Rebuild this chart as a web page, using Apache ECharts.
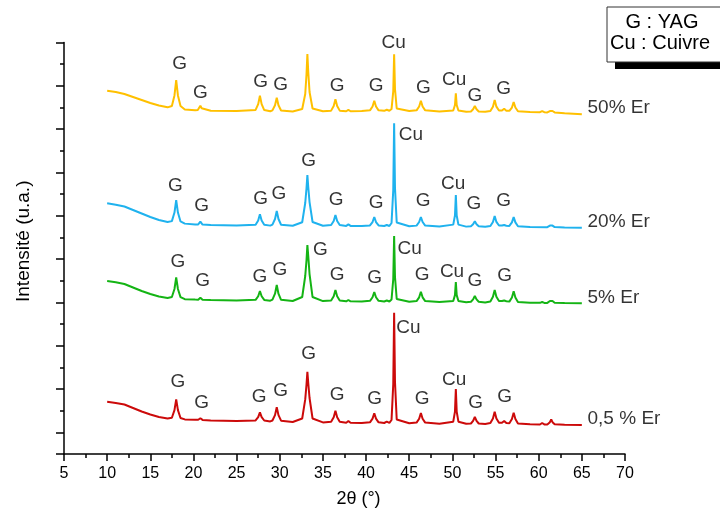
<!DOCTYPE html>
<html><head><meta charset="utf-8">
<script src="https://cdn.jsdelivr.net/npm/echarts@6/dist/echarts.min.js"></script>
<style>html,body{margin:0;padding:0;background:#fff}#c{width:720px;height:519px}</style>
</head><body><div id="c"></div>
<script>
// X-ray diffraction patterns (2θ in degrees, intensity in arbitrary units, offset per sample)
const seriesNames = ['50% Er', '20% Er', '5% Er', '0,5 % Er'];
const seriesColors = ['#FFC000', '#1FB2EE', '#14B414', '#CC0A0A'];

const er50 = [[10,363.3],[11,362],[12,360],[13,357],[14,354],[15,351],[16,348.5],[17,346.7],
[17.5,348],[17.8,358.6],[18,374],[18.2,358.6],[18.5,348],[19,344.6],[20.2,343.8],
[20.5,344.1],[20.65,345.8],[20.8,348.3],[20.95,345.8],[21.1,344],[22,343.2],[25,343],
[27.2,344.1],[27.5,349.9],[27.7,358.3],[27.9,349.9],[28.2,344],[28.9,342.8],
[29.15,343.7],[29.45,348.8],[29.65,356.3],[29.85,348.8],[30.15,343.6],[31.5,342.5],
[32.6,345],[32.95,360],[33.1,380],[33.2,400],[33.3,382],[33.45,362],[33.8,345.5],[35,342.7],
[35.95,343.4],[36.25,348],[36.45,354.7],[36.65,348],[36.95,343.4],
[37.7,342.8],[37.95,344.2],[38.2,342.8],[39.5,343],
[40.45,343.7],[40.75,347.6],[40.95,353.3],[41.15,347.6],[41.45,343.7],
[42.1,343.2],[42.4,344.3],[42.7,343.3],
[42.95,345],[43.15,363],[43.25,399.7],[43.35,365],[43.55,345.5],[45,343],
[45.85,343.7],[46.15,347.6],[46.35,353.3],[46.55,347.6],[46.85,343.7],[48.5,342.5],
[50.1,343.5],[50.3,349],[50.4,360.7],[50.5,349],[50.7,343.5],[51.6,342.2],
[52.15,342.6],[52.4,344.8],[52.6,348],[52.8,344.8],[53.05,342.6],[53.8,342.2],
[54.4,343],[54.7,347.4],[54.9,354],[55.1,347.4],[55.4,343.5],
[55.75,343.5],[56.0,345.3],[56.25,343.4],
[56.6,343.2],[56.9,346.5],[57.1,352],[57.3,346.5],[57.6,342.8],[59,342],
[60.15,341.8],[60.4,343],[60.65,341.8],[61.0,341.6],
[61.1,341.8],[61.3,343],[61.45,344.7],[61.6,343],[61.85,341.6],[63,340.7],[65,339.7]];

const er20 = [[10,250.7],[11,249.3],[12,247.5],[13,244],[14,240.5],[15,237],[16,234],[17,232],
[17.5,232.9],[17.8,241.5],[18,254],[18.2,241.5],[18.5,232.6],[19,230.4],[20.2,229.6],
[20.55,229.6],[20.8,232.3],[21.05,229.5],[22,229],[25,228.6],
[27.2,229.3],[27.5,233.5],[27.7,239.7],[27.9,233.5],[28.2,229.2],[28.9,228.4],
[29.15,229.4],[29.45,235],[29.65,243],[29.85,235],[30.15,229.3],[31.5,228.3],
[32.6,231.8],[32.95,251],[33.1,266],[33.2,279],[33.3,267],[33.45,252],[33.8,232],[35,228.3],
[35.95,229],[36.25,233],[36.45,239],[36.65,233],[36.95,229],
[37.7,228.1],[37.95,229.6],[38.2,228.1],[39.5,228],
[40.45,228.6],[40.75,232],[40.95,237],[41.15,232],[41.45,228.6],
[42.1,228],[42.4,229],[42.7,228],
[42.95,231],[43.15,264],[43.25,330.7],[43.35,266],[43.55,231.5],[45,227.8],
[45.85,228.4],[46.15,232],[46.35,237],[46.55,232],[46.85,228.4],[48.5,227.6],
[50.1,229.4],[50.3,238.5],[50.4,259],[50.5,238.5],[50.7,229.4],[51.6,227.4],
[52.15,227.8],[52.4,229.8],[52.6,232.7],[52.8,229.8],[53.05,227.8],[53.8,227.3],
[54.4,228],[54.7,232.1],[54.9,238],[55.1,232.1],[55.4,228.5],
[55.75,228.5],[56.0,229],[56.25,228.3],
[56.6,228.1],[56.9,231.6],[57.1,237],[57.3,231.6],[57.6,227.8],[59,227],[61.0,226.8],
[61.1,227],[61.3,228.4],[61.45,230],[61.6,228.4],[61.85,226.9],[63,226.5],[65,226.3]];

const er5 = [[10,173],[11,171.7],[12,170],[13,166.5],[14,163],[15,160],[16,157.5],[17,156],
[17.5,157],[17.8,165],[18,176.7],[18.2,165],[18.5,156.9],[19,154.8],[20.2,154.4],
[20.55,154.3],[20.8,156.3],[21.05,154.2],[22,154],[25,153.6],
[27.2,154.2],[27.5,157.8],[27.7,163],[27.9,157.8],[28.2,154.1],[28.9,153.3],
[29.15,154.3],[29.45,160.3],[29.65,169],[29.85,160.3],[30.15,154.2],[31.5,153],
[32.6,157],[32.95,178],[33.1,194],[33.2,209],[33.3,198],[33.45,180],[33.8,157],[35,152.9],
[35.95,153.6],[36.25,157.8],[36.45,164],[36.65,157.8],[36.95,153.6],
[37.7,152.7],[37.95,154],[38.2,152.7],[39.5,152.5],
[40.45,153.2],[40.75,156.8],[40.95,162],[41.15,156.8],[41.45,153.2],
[42.1,152.5],[42.4,153.5],[42.7,152.5],
[42.95,154.5],[43.15,175],[43.25,218],[43.35,177],[43.55,155],[45,152.2],
[45.85,152.9],[46.15,156.7],[46.35,162.3],[46.55,156.7],[46.85,152.9],[48.5,152],
[50.1,153.1],[50.3,158.9],[50.4,172],[50.5,158.9],[50.7,153.1],[51.6,151.8],
[52.15,152.3],[52.4,154.6],[52.6,158],[52.8,154.6],[53.05,152.3],[53.8,151.6],
[54.4,152.5],[54.7,157.2],[54.9,164],[55.1,157.2],[55.4,153],
[55.75,153],[56.0,153.6],[56.25,152.8],
[56.6,152.4],[56.9,156.5],[57.1,162.7],[57.3,156.5],[57.6,152],[59,151.3],
[60.15,151.2],[60.4,152],[60.65,151.1],[61.0,151.1],
[61.1,151.4],[61.3,153],[61.45,155],[61.6,153],[61.85,151.2],[63,150.9],[65,150.7]];

const er05 = [[10,52.3],[11,51],[12,49.5],[13,46],[14,42.5],[15,39.5],[16,37],[17,35.5],
[17.5,36.2],[17.8,43.9],[18,54.7],[18.2,43.9],[18.5,36],[19,34.6],[20.2,34.2],
[20.55,34.2],[20.8,35.7],[21.05,34.1],[22,33.5],[25,33],
[27.2,33.6],[27.5,36.9],[27.7,41.7],[27.9,36.9],[28.2,33.5],[28.9,32.6],
[29.15,33.5],[29.45,38.9],[29.65,46.7],[29.85,38.9],[30.15,33.3],[31.5,32],
[32.6,35.5],[32.95,54.6],[33.1,69.7],[33.2,82.3],[33.3,71],[33.45,56],[33.8,35.5],[35,31.6],
[35.95,32.3],[36.25,36.8],[36.45,43.3],[36.65,36.8],[36.95,32.3],
[37.7,31.3],[37.95,33],[38.2,31.3],[39.5,31],
[40.45,31.7],[40.75,35.4],[40.95,40.7],[41.15,35.4],[41.45,31.7],
[42.1,31],[42.4,32.3],[42.7,31.2],
[42.95,34],[43.15,70],[43.25,141.3],[43.35,72],[43.55,34.5],[45,30.7],
[45.85,31.4],[46.15,35.3],[46.35,41],[46.55,35.3],[46.85,31.4],[48.5,30.3],
[50.1,32.3],[50.3,42.4],[50.4,65],[50.5,42.4],[50.7,32.3],[51.6,30.2],
[52.15,30.5],[52.4,33.1],[52.6,37],[52.8,33.1],[53.05,30.5],[53.8,30.1],
[54.4,30.9],[54.7,35.5],[54.9,42.3],[55.1,35.5],[55.4,31.2],
[55.75,31.2],[56.0,33],[56.25,31],
[56.6,30.8],[56.9,35.1],[57.1,41.3],[57.3,35.1],[57.6,30.6],[59,29.7],
[60.15,29.5],[60.4,31],[60.65,29.6],[61.0,29.5],
[61.1,29.9],[61.3,31.8],[61.45,34.7],[61.6,31.8],[61.85,29.8],[63,29.2],[65,29]];

// Peak annotations: [2θ, intensity, text]
const peakLabels50 = [[18.4,390,'G'],[20.8,361.7,'G'],[27.77,372.3,'G'],[30.1,369,'G'],[33.57,417.3,'G'],[36.65,368,'G'],[41.17,368,'G'],[43.2,411.3,'Cu'],[46.65,366.7,'G'],[50.2,374,'Cu'],[52.6,358.3,'G'],[55.95,365.7,'G']];
const peakLabels20 = [[17.92,268.3,'G'],[20.96,248.3,'G'],[27.77,255.7,'G'],[29.9,260.7,'G'],[33.35,293,'G'],[36.54,254,'G'],[41.17,251.7,'G'],[45.2,319,'Cu'],[46.6,253,'G'],[50.1,270,'Cu'],[52.5,250.7,'G'],[55.95,253,'G']];
const peakLabels5 = [[18.2,192.3,'G'],[21.07,173,'G'],[27.7,177.3,'G'],[30.0,184.7,'G'],[34.7,204,'G'],[36.65,179,'G'],[41.0,176.3,'G'],[45.06,205.7,'Cu'],[46.5,179,'G'],[49.96,182.3,'Cu'],[52.6,173,'G'],[56.05,178.3,'G']];
const peakLabels05 = [[18.2,72.3,'G'],[20.96,51.3,'G'],[27.6,57.3,'G'],[30.1,63,'G'],[33.35,100.7,'G'],[36.65,59,'G'],[41.0,55,'G'],[44.9,126.3,'Cu'],[46.5,55.7,'G'],[50.2,74,'Cu'],[52.7,51.7,'G'],[56.05,57.3,'G']];
// Sample name labels at right end: [2θ, intensity]
const nameLabelPos = [[65.6,346],[65.6,232.3],[65.6,156],[65.6,35]];

const xTicks = {min: 5, max: 70, step: 5};
const legendLines = ['G : YAG', 'Cu : Cuivre'];

const FONT = 'Liberation Sans, Arial, sans-serif';
const chart = echarts.init(document.getElementById('c'), null, {renderer: 'canvas'});
const curves = [er50, er20, er5, er05];
const labelSets = [peakLabels50, peakLabels20, peakLabels5, peakLabels05];

const series = [];
curves.forEach((d, i) => {
  series.push({
    type: 'line', name: seriesNames[i], data: d, showSymbol: false, symbol: 'none',
    lineStyle: {color: seriesColors[i], width: 2}, itemStyle: {color: seriesColors[i]},
    animation: false, z: 3
  });
});
labelSets.forEach((set, i) => {
  series.push({
    type: 'scatter', symbolSize: 1, itemStyle: {color: 'rgba(0,0,0,0)'}, animation: false, silent: true,
    data: set.map(p => ({value: [p[0], p[1]], name: p[2]})),
    label: {show: true, position: 'inside', formatter: p => p.name, color: '#000', fontSize: 19, fontFamily: FONT},
    z: 5
  });
});
series.push({
  type: 'scatter', symbolSize: 1, itemStyle: {color: 'rgba(0,0,0,0)'}, animation: false, silent: true,
  data: nameLabelPos.map((p, i) => ({value: p, name: seriesNames[i]})),
  label: {show: true, position: 'right', distance: 0, formatter: p => p.name, color: '#000', fontSize: 19, fontFamily: FONT},
  z: 5
});

const axisCol = '#000';
chart.setOption({
  animation: false,
  backgroundColor: '#fff',
  grid: {left: 64, top: 42.5, right: 95, bottom: 65, containLabel: false},
  xAxis: {
    type: 'value', min: xTicks.min, max: xTicks.max, interval: xTicks.step,
    axisLine: {onZero: false, lineStyle: {color: axisCol, width: 1.5}},
    axisTick: {length: 7, lineStyle: {color: axisCol, width: 1.5}},
    minorTick: {show: true, splitNumber: 2, length: 4, lineStyle: {color: axisCol, width: 1.5}},
    splitLine: {show: false},
    axisLabel: {color: '#000', fontSize: 16, fontFamily: FONT, margin: 12},
    name: '2θ (°)', nameLocation: 'middle', nameGap: 36,
    nameTextStyle: {color: '#000', fontSize: 18, fontFamily: FONT, padding: [0, 0, 0, 28]}
  },
  yAxis: [{
    type: 'value', min: 0, max: 411.54, interval: 21.66,
    axisLine: {onZero: false, lineStyle: {color: axisCol, width: 1.5}},
    axisTick: {length: 4, lineStyle: {color: axisCol, width: 1.5}},
    axisLabel: {show: false}, splitLine: {show: false},
    name: 'Intensité (u.a.)', nameLocation: 'middle', nameGap: 31,
    nameTextStyle: {color: '#000', fontSize: 19, fontFamily: FONT, padding: [0, 0, 0, 14]}
  }, {
    type: 'value', position: 'left', inverse: true, min: 0, max: 19, interval: 2,
    axisLine: {show: false}, axisTick: {length: 8, lineStyle: {color: axisCol, width: 1.5}},
    axisLabel: {show: false}, splitLine: {show: false}
  }],
  series: series,
  graphic: [
    {type: 'rect', shape: {x: 615, y: 14, width: 130, height: 55}, style: {fill: '#000'}, z: 10},
    {type: 'rect', shape: {x: 607, y: 7, width: 130, height: 55}, style: {fill: '#fff', stroke: '#333', lineWidth: 1}, z: 11},
    {type: 'text', x: 662, y: 22, style: {text: legendLines[0], align: 'center', verticalAlign: 'middle', font: '20px ' + FONT, fill: '#000'}, z: 12},
    {type: 'text', x: 610, y: 43, style: {text: legendLines[1], align: 'left', verticalAlign: 'middle', font: '20px ' + FONT, fill: '#000'}, z: 12}
  ]
});
</script></body></html>
